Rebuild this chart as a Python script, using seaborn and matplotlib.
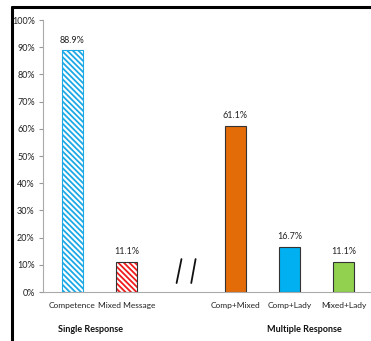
import matplotlib
matplotlib.use("Agg")
import matplotlib.pyplot as plt
from matplotlib.lines import Line2D
from matplotlib.patches import Rectangle
import seaborn as sns
import pandas as pd

categories = ["Competence", "Mixed Message", "", "Comp+Mixed", "Comp+Lady", "Mixed+Lady"]
values = [88.9, 11.1, None, 61.1, 16.7, 11.1]
labels = ["88.9%", "11.1%", "", "61.1%", "16.7%", "11.1%"]
colors = ["#1CA9E6", "#EE1C1C", "#FFFFFF", "#E36C09", "#00B0F0", "#92D050"]
hatched = [True, True, False, False, False, False]
yticks = [0, 10, 20, 30, 40, 50, 60, 70, 80, 90, 100]
group_labels = ["Single Response", "Multiple Response"]

sns.set_theme(style="white")
plt.rcParams["font.family"] = ["Lato", "DejaVu Sans"]
plt.rcParams["hatch.linewidth"] = 1.3

df = pd.DataFrame({"cat": categories, "val": values})
df = df.dropna()

fig = plt.figure(figsize=(3.71, 3.41), dpi=100)
ax = fig.add_axes([43 / 371, 1 - 292 / 341, 1 - 43 / 371, (292 - 20) / 341])

sns.barplot(data=df, x="cat", y="val", order=categories, hue="cat",
            palette=dict(zip(categories, colors)), width=0.39, legend=False,
            ax=ax, saturation=1, linewidth=0.8, edgecolor="#333333")

bars = [p for p in ax.patches]
data_cats = list(df["cat"])
for p, cat in zip(bars, data_cats):
    i = categories.index(cat)
    if hatched[i]:
        p.set_facecolor("white")
        p.set_edgecolor(colors[i])
        p.set_hatch("\\\\\\\\\\\\")
        p.set_linewidth(0)
        outline = Rectangle((p.get_x(), p.get_y()), p.get_width(), p.get_height(),
                            fill=False, edgecolor=colors[i] if i == 0 else "#333333",
                            linewidth=0.8)
        ax.add_patch(outline)

for container in ax.containers:
    for bar in container:
        if bar.get_height() > 0:
            cx = bar.get_x() + bar.get_width() / 2
            i = int(round(cx))
            ax.annotate(labels[i], (cx, bar.get_height()), xytext=(0, 4),
                        textcoords="offset points", ha="center", va="bottom",
                        fontsize=6.5, color="#222222")

ax.set_ylim(0, 100)
ax.set_xlim(-0.54, 5.5)
ax.set_yticks(yticks)
ax.set_yticklabels([f"{t}%" for t in yticks], fontsize=6.5, color="#222222")
ax.tick_params(axis="y", length=3, width=0.8, color="#999999", pad=3, left=True)
ax.tick_params(axis="x", length=0, labelsize=6.0, labelcolor="#222222", pad=7)
ax.set_xlabel("")
ax.set_ylabel("")
for s in ["top", "right"]:
    ax.spines[s].set_visible(False)
ax.spines["left"].set_color("#AAAAAA")
ax.spines["bottom"].set_color("#AAAAAA")
ax.spines["left"].set_linewidth(0.8)
ax.spines["bottom"].set_linewidth(0.8)

# break marks
ax.plot([1.92, 2.01], [3.3, 12.1], color="#111111", lw=1.3, clip_on=False)
ax.plot([2.19, 2.27], [3.3, 12.1], color="#111111", lw=1.3, clip_on=False)

# group labels
fig.text(91 / 371, 1 - 329 / 341, group_labels[0], ha="center", va="center",
         fontsize=6.5, fontweight="bold", color="#111111")
fig.text(304 / 371, 1 - 329 / 341, group_labels[1], ha="center", va="center",
         fontsize=6.5, fontweight="bold", color="#111111")

# frame border
fig.add_artist(Line2D([12 / 371, 1.0], [1 - 7 / 341, 1 - 7 / 341], color="black", lw=2.2,
                      transform=fig.transFigure))
fig.add_artist(Line2D([12 / 371, 12 / 371], [0, 1 - 7 / 341], color="black", lw=2.2,
                      transform=fig.transFigure))

fig.savefig("out.png", dpi=100)
